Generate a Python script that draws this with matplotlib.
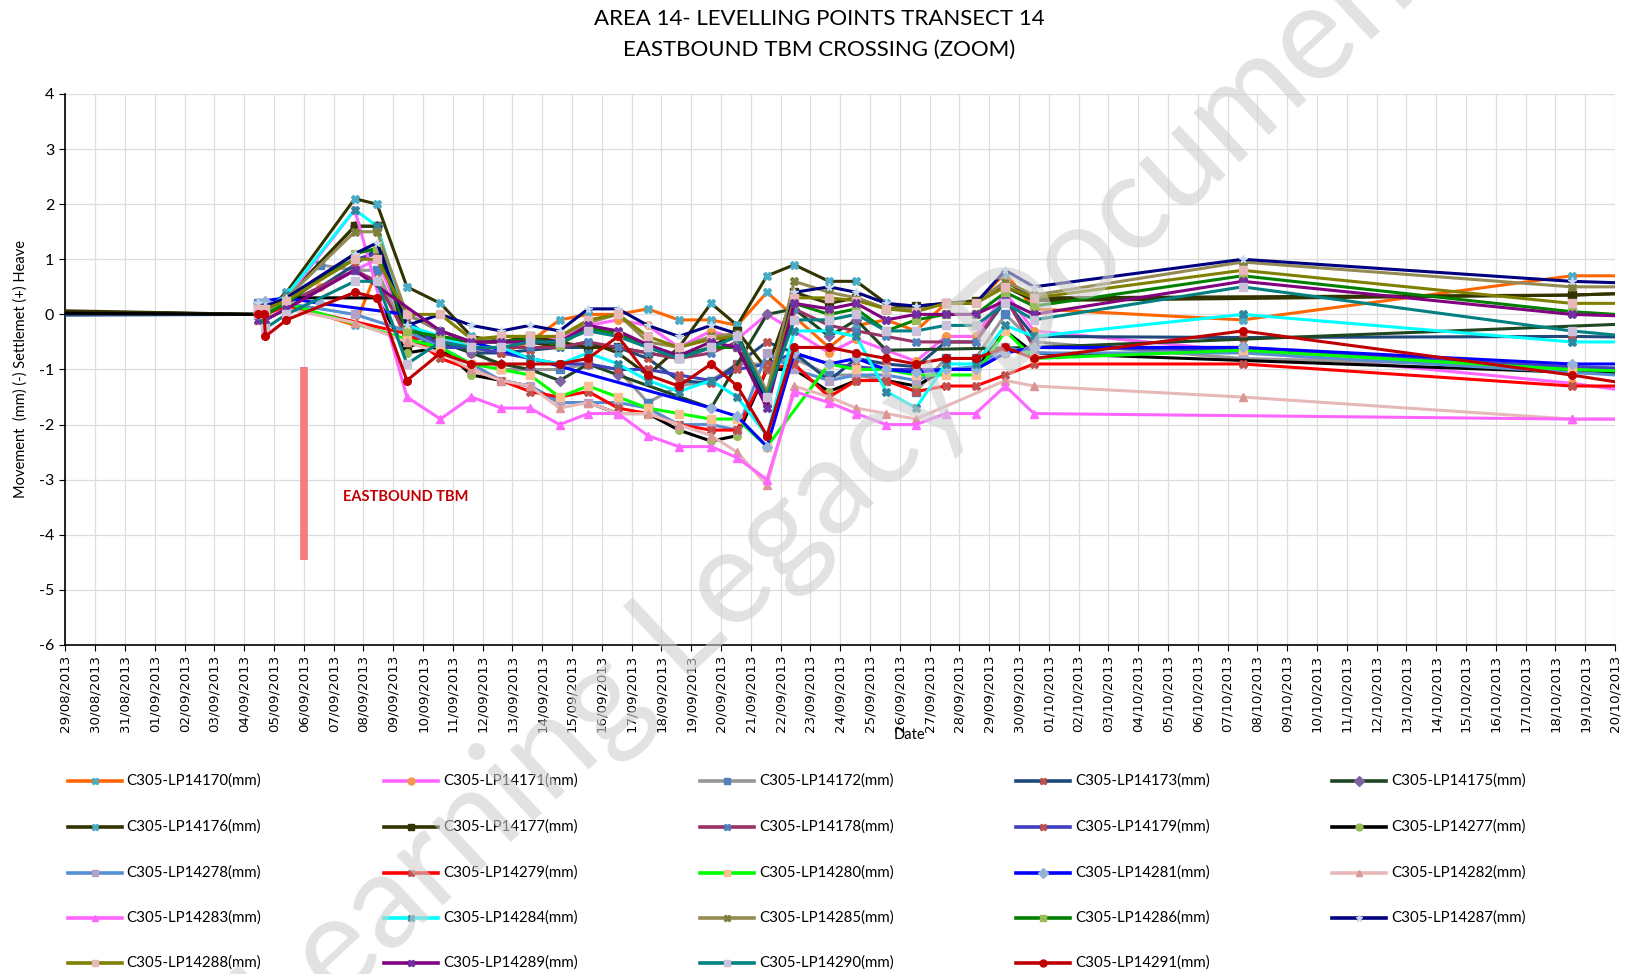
import numpy as np
import pandas as pd
import matplotlib
matplotlib.use("Agg")
import matplotlib.pyplot as plt
import matplotlib.dates as mdates
from matplotlib.lines import Line2D

N = None

# reading dates (first one is the baseline before the window, last one after it)
dates = pd.to_datetime([
    "2013-08-20 12:00",
    "2013-09-04 11:00", "2013-09-04 16:00", "2013-09-04 17:00", "2013-09-05 10:00",
    "2013-09-06 13:00", "2013-09-07 17:00", "2013-09-08 11:00", "2013-09-09 11:00",
    "2013-09-10 14:00", "2013-09-11 15:00", "2013-09-12 15:00", "2013-09-13 14:00",
    "2013-09-14 14:00", "2013-09-15 13:00", "2013-09-16 13:00", "2013-09-17 13:00",
    "2013-09-18 14:00", "2013-09-19 16:00", "2013-09-20 13:00", "2013-09-21 13:00",
    "2013-09-22 11:00", "2013-09-23 15:00", "2013-09-24 13:00", "2013-09-25 13:00",
    "2013-09-26 13:00", "2013-09-27 13:00", "2013-09-28 13:00", "2013-09-29 13:00",
    "2013-09-30 12:00", "2013-10-07 12:00", "2013-10-18 13:00", "2013-10-21 12:00",
])

lp14170 = [N, 0.1, N, 0.0, 0.2, N, -0.2, 0.8, -0.5, -0.6, -0.6, -0.7, -0.5, -0.1,
           0.0, 0.0, 0.1, -0.1, -0.1, -0.2, 0.4, N, -0.6, -0.2, -0.1, -0.3,
           0.2, 0.2, 0.75, 0.1, -0.1, 0.7, 0.7]
lp14171 = [N, 0.1, N, 0.05, 0.2, 0.5, 0.8, 1.0, -0.3, -0.5, -0.5, -0.5, -0.45, -0.45,
           -0.2, -0.1, -0.2, -0.6, -0.3, -0.45, 0.0, N, -0.7, -0.45, -0.65, -0.85,
           -0.4, -0.4, 0.4, -0.3, N, -1.25, -1.47]
lp14172 = [N, 0.2, N, 0.1, 0.3, 0.9, 0.8, 0.8, -0.4, -0.5, -0.6, -1.0, -1.0, -1.0,
           -0.9, -1.0, -1.6, -1.3, -1.2, -0.9, -0.9, -0.8, -1.1, -1.1, -1.2, -1.4,
           -0.8, -0.8, 0.0, -0.5, -0.8, -0.95, -1.0]
lp14173 = [-0.03, 0.0, N, -0.1, 0.1, N, 0.9, 1.2, -0.2, -0.5, -0.7, -0.7, -0.65, -0.6,
           -0.6, -0.6, -0.8, -1.2, -1.25, -0.9, -0.5, -0.7, -1.2, -0.8, -0.9, -0.95,
           -0.5, -0.5, 0.25, -0.4, -0.42, -0.4, -0.42]
lp14175 = [0.1, 0.0, N, 0.0, 0.3, N, 1.6, 1.6, -0.3, -0.5, -0.7, -0.9, -1.0, -1.2,
           -0.9, -1.1, N, N, -1.7, N, 0.0, 0.1, -0.4, -0.1, -0.65, N,
           N, N, N, -0.6, N, N, -0.15]
lp14176 = [0.15, 0.0, N, 0.05, 0.4, N, 2.1, 2.0, 0.5, 0.2, -0.4, -0.5, -0.5, -0.6,
           -0.5, -0.7, -1.1, -0.6, 0.2, -0.2, 0.7, 0.9, 0.6, 0.6, 0.2, 0.1,
           0.2, 0.2, 0.6, 0.3, N, 0.35, 0.4]
lp14177 = [0.12, 0.0, N, 0.0, 0.3, N, 1.6, 1.6, -0.6, -0.4, -0.5, -0.5, -0.4, -0.5,
           -0.6, -0.6, -0.7, -0.8, -0.6, -0.3, -1.0, 0.4, 0.2, 0.3, 0.1, 0.15,
           0.2, 0.25, 0.5, 0.25, N, 0.35, 0.4]
lp14178 = [N, 0.0, N, 0.0, 0.2, N, 0.8, 0.6, -0.4, -0.5, -0.6, -0.6, -0.6, -0.6,
           -0.5, -0.6, -0.7, -0.8, -0.7, -0.5, -1.5, 0.1, -0.2, -0.3, -0.4, -0.5,
           -0.5, -0.5, 0.3, -0.6, -0.6, -1.0, -1.1]
lp14179 = [N, 0.1, N, 0.05, 0.3, N, 1.0, 1.1, -0.1, -0.6, -0.6, -0.7, -0.8, -0.9,
           -0.9, -1.0, -1.0, -1.1, -1.2, -1.0, -0.9, -0.7, -0.9, -0.95, -1.0, -1.0,
           -1.0, -1.0, -0.7, -0.6, -0.65, -0.95, -1.0]
lp14277 = [0.05, 0.0, N, 0.0, 0.3, N, N, 0.3, -0.7, -0.6, -1.1, -1.2, -1.3, -1.6,
           -1.6, -1.8, -1.8, -2.1, -2.3, -2.2, -1.0, -1.0, -1.4, -1.2, -1.2, -1.3,
           -1.0, -1.0, -0.3, -0.7, N, -1.05, -1.1]
lp14278 = [N, 0.1, N, 0.05, 0.2, N, 0.0, N, -0.3, -0.6, -0.9, -1.2, -1.3, -1.6,
           -1.6, -1.6, -1.7, -2.0, -2.0, -2.1, -0.7, -1.0, -1.2, -1.1, -1.1, -1.2,
           -1.0, -0.95, -0.6, -0.7, -0.7, -1.05, -1.15]
lp14279 = [N, 0.1, N, 0.0, 0.15, N, N, N, -0.35, -0.8, -1.0, -1.2, -1.4, -1.5,
           -1.4, -1.7, -1.8, -2.0, -2.1, -2.1, -1.0, -0.9, -1.5, -1.2, -1.2, -1.4,
           -1.3, -1.3, -1.1, -0.9, -0.9, -1.3, -1.3]
lp14280 = [N, 0.1, N, 0.05, 0.2, N, N, N, -0.45, -0.6, -0.9, -1.0, -1.1, -1.5,
           -1.3, -1.5, -1.7, -1.8, -1.9, -1.9, -2.4, N, -0.9, -1.0, -1.0, -1.1,
           -1.1, -1.1, -0.3, -0.8, -0.65, -1.0, -1.05]
lp14281 = [N, 0.2, N, 0.25, 0.3, 0.2, N, N, 0.0, -0.3, -0.5, N, N, N,
           N, N, N, N, -1.7, -1.85, -2.4, -0.7, -0.9, -0.8, -1.0, -1.05,
           -1.0, -1.0, -0.7, -0.6, -0.6, -0.9, -0.9]
lp14282 = [N, -0.1, N, -0.1, 0.1, N, -0.15, N, -0.5, -0.7, -1.0, -1.2, -1.3, -1.7,
           -1.6, -1.8, -1.8, -2.0, -2.2, -2.5, -3.1, -1.3, -1.5, -1.7, -1.8, -1.9,
           N, N, -1.2, -1.3, -1.5, -1.9, -1.9]
lp14283 = [N, 0.0, N, 0.1, 0.3, N, 1.9, N, -1.5, -1.9, -1.5, -1.7, -1.7, -2.0,
           -1.8, -1.8, -2.2, -2.4, -2.4, -2.6, -3.0, -1.4, -1.6, -1.8, -2.0, -2.0,
           -1.8, -1.8, -1.3, -1.8, N, -1.9, -1.9]
lp14284 = [N, 0.1, N, 0.1, 0.35, N, 1.9, 1.6, -0.2, -0.4, -0.6, -0.6, -0.8, -0.9,
           -0.7, -0.9, -1.2, -1.4, -1.2, -1.5, -2.2, -0.3, -0.3, -0.4, -1.4, -1.7,
           -0.9, -0.9, -0.2, -0.4, 0.0, -0.5, -0.5]
lp14285 = [N, 0.1, N, 0.05, 0.3, N, 1.5, 1.5, 0.0, -0.3, -0.5, -0.4, -0.4, -0.4,
           -0.15, 0.0, -0.5, -0.6, -0.4, -0.35, -1.4, 0.6, 0.4, 0.3, 0.1, 0.1,
           0.2, 0.2, 0.6, 0.35, 0.95, 0.5, 0.5]
lp14286 = [N, 0.0, N, 0.0, 0.2, N, 1.1, 1.2, -0.3, -0.4, -0.5, -0.5, -0.45, -0.55,
           -0.25, -0.35, -0.6, -0.75, -0.6, -0.6, -1.6, 0.2, 0.0, 0.1, -0.3, -0.1,
           0.0, 0.0, 0.4, 0.15, 0.7, 0.05, -0.05]
lp14287 = [N, 0.2, N, 0.15, 0.3, N, 1.1, 1.3, -0.2, 0.0, -0.2, -0.3, -0.2, -0.3,
           0.1, 0.1, -0.2, -0.4, -0.2, -0.35, -1.6, 0.4, 0.5, 0.4, 0.2, 0.15,
           0.2, 0.2, 0.8, 0.5, 1.0, 0.6, 0.55]
lp14288 = [N, 0.1, N, 0.1, 0.25, N, 1.0, 1.0, 0.0, 0.0, -0.45, -0.4, -0.4, -0.4,
           -0.1, 0.0, -0.4, -0.6, -0.45, -0.4, -1.5, 0.3, 0.3, 0.25, 0.1, 0.05,
           0.2, 0.2, 0.5, 0.3, 0.8, 0.2, 0.2]
lp14289 = [N, -0.1, N, -0.1, 0.1, N, 0.8, N, N, -0.3, -0.5, -0.5, -0.5, -0.5,
           -0.2, -0.3, -0.55, -0.75, -0.5, -0.6, -1.7, 0.2, 0.1, 0.2, -0.1, 0.0,
           0.0, 0.0, 0.25, 0.0, 0.6, 0.0, -0.05]
lp14290 = [N, 0.0, N, -0.25, 0.0, N, 0.6, 0.6, -0.9, -0.5, -0.6, -0.6, -0.5, -0.5,
           -0.3, -0.4, -0.6, -0.8, -0.6, -0.4, -1.5, -0.1, -0.1, 0.0, -0.3, -0.3,
           -0.2, -0.2, 0.2, -0.1, 0.5, -0.3, -0.45]
lp14291 = [N, 0.0, 0.0, -0.4, -0.1, N, 0.4, 0.3, -1.2, -0.7, -0.9, -0.9, -0.9, -0.9,
           -0.8, -0.4, -1.1, -1.3, -0.9, -1.3, -2.2, -0.6, -0.6, -0.7, -0.8, -0.9,
           -0.8, -0.8, -0.6, -0.8, -0.3, -1.1, -1.35]

labels = ["C305-LP14170(mm)", "C305-LP14171(mm)", "C305-LP14172(mm)", "C305-LP14173(mm)",
          "C305-LP14175(mm)", "C305-LP14176(mm)", "C305-LP14177(mm)", "C305-LP14178(mm)",
          "C305-LP14179(mm)", "C305-LP14277(mm)", "C305-LP14278(mm)", "C305-LP14279(mm)",
          "C305-LP14280(mm)", "C305-LP14281(mm)", "C305-LP14282(mm)", "C305-LP14283(mm)",
          "C305-LP14284(mm)", "C305-LP14285(mm)", "C305-LP14286(mm)", "C305-LP14287(mm)",
          "C305-LP14288(mm)", "C305-LP14289(mm)", "C305-LP14290(mm)", "C305-LP14291(mm)"]
values = [lp14170, lp14171, lp14172, lp14173, lp14175, lp14176, lp14177, lp14178,
          lp14179, lp14277, lp14278, lp14279, lp14280, lp14281, lp14282, lp14283,
          lp14284, lp14285, lp14286, lp14287, lp14288, lp14289, lp14290, lp14291]

line_colors = ["#FF6600", "#FF66FF", "#969696", "#1F497D", "#1E4620", "#333300",
               "#333300", "#993366", "#3F3FBF", "#000000", "#558ED5", "#FF0000",
               "#00FF00", "#0000FF", "#E6B9B8", "#FF66FF", "#00FFFF", "#948A54",
               "#008000", "#000080", "#808000", "#800080", "#008080", "#C00000"]
markers = ["X", "o", "s", "X", "D", "X", "s", "X", "X", "o", "s", "X",
           "s", "D", "^", "^", "X", "X", "s", "*", "s", "X", "s", "o"]
marker_colors = ["#4BACC6", "#F79646", "#4F81BD", "#C0504D", "#8064A2", "#4BACC6",
                 "#333300", "#4F81BD", "#C0504D", "#9BBB59", "#B3A2C7", "#C0504D",
                 "#FAC090", "#95B3D7", "#D99694", "#FF66FF", "#31859C", "#7F7F3F",
                 "#9BBB59", "#C6D9F1", "#E6B9B8", "#7030A0", "#CCC1DA", "#C00000"]

tbm_date = pd.Timestamp("2013-09-06 00:00")
tbm_span = (-0.95, -4.45)

plt.rcParams["font.family"] = ["Lato", "DejaVu Sans"]
plt.rcParams["axes.unicode_minus"] = False

fig = plt.figure(figsize=(16.29, 9.74), dpi=100)
ax = fig.add_axes([0.0402, 0.3378, 0.9512, 0.5657])

for vals, lab, c, m, mc in zip(values, labels, line_colors, markers, marker_colors):
    y = np.array([np.nan if v is None else v for v in vals], dtype=float)
    ok = ~np.isnan(y)
    ax.plot(dates[ok], y[ok], color=c, lw=2.2, marker=m, ms=5.5,
            mfc=mc, mec=mc, label=lab, zorder=3)

ax.plot([tbm_date, tbm_date], tbm_span, color="#F47C7C", lw=5.5,
        solid_capstyle="butt", zorder=4)
ax.text(pd.Timestamp("2013-09-09 10:00"), -3.32, "EASTBOUND TBM", color="#C00000",
        fontsize=10.5, fontweight="bold", ha="center", va="center", zorder=5)

ax.set_xlim(pd.Timestamp("2013-08-29"), pd.Timestamp("2013-10-20"))
ax.set_ylim(-6, 4)
ax.set_yticks(range(-6, 5))
ax.xaxis.set_major_locator(mdates.DayLocator())
ax.xaxis.set_major_formatter(mdates.DateFormatter("%d/%m/%Y"))
for t in ax.get_xticklabels():
    t.set_rotation(90)
    t.set_fontfamily("DejaVu Sans")
    t.set_fontsize(9.6)
ax.tick_params(axis="y", labelsize=11.5, length=4, pad=4)
ax.tick_params(axis="x", length=4, pad=3)
ax.grid(True, color="#DDDDDD", lw=0.9, zorder=0)
ax.set_axisbelow(True)
for s in ["top", "right"]:
    ax.spines[s].set_visible(False)
ax.spines["left"].set_linewidth(1.2)
ax.spines["bottom"].set_linewidth(1.2)

ax.set_ylabel("Movement  (mm) (-) Settlemet (+) Heave", fontsize=10.5, labelpad=8)
fig.text(909 / 1629, 1 - 735 / 974, "Date", fontsize=10.5, ha="center", va="center")
fig.text(0.503, 1 - 19 / 974, "AREA 14- LEVELLING POINTS TRANSECT 14", fontsize=16,
         ha="center", va="center")
fig.text(0.503, 1 - 50 / 974, "EASTBOUND TBM CROSSING (ZOOM)", fontsize=16,
         ha="center", va="center")

# legend laid out row by row, five columns
col_x = [67.5, 384, 700, 1016, 1332]
row_y = [781, 827, 873, 918, 963]
W, H = 1629, 974
for i, (lab, c, m, mc) in enumerate(zip(labels, line_colors, markers, marker_colors)):
    x0 = col_x[i % 5]
    y0 = row_y[i // 5]
    fig.add_artist(Line2D([x0 / W, (x0 + 54) / W], [1 - y0 / H, 1 - y0 / H],
                          color=c, lw=2.6, transform=fig.transFigure))
    fig.add_artist(Line2D([(x0 + 27) / W], [1 - y0 / H], marker=m, ms=5,
                          mfc=mc, mec=mc, transform=fig.transFigure))
    fig.text((x0 + 59) / W, 1 - y0 / H, lab, fontsize=10.8, va="center", ha="left")

# watermark
fig.text(845 / W, 1 - 480 / H, "Learning Legacy Document", fontsize=96, color="#CFCFCF",
         alpha=0.6, rotation=43, ha="center", va="center", zorder=10)

fig.savefig("out.png", dpi=100)
